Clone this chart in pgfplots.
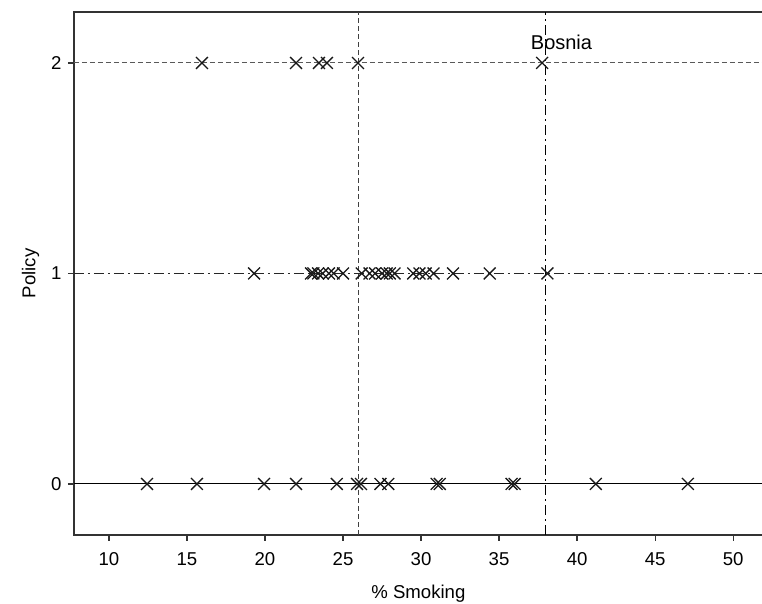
\documentclass[border=0pt]{standalone}
\usepackage{fontspec}
\setmainfont{Liberation Sans}
\usepackage{pgfplots}
\pgfplotsset{compat=1.18}
\usetikzlibrary{calc}

\begin{document}
\fontsize{9.3}{11}\selectfont
\begin{tikzpicture}
\begin{axis}[
  scale only axis,
  width=344.5pt, height=261.5pt,
  xmin=7.76, xmax=51.9,
  ymin=-0.242, ymax=2.242,
  xtick={10,15,...,50},
  ytick={0,1,2},
  tick align=outside,
  major tick length=3pt,
  xtick pos=bottom, ytick pos=left,
  axis line style={line width=0.7pt, black!80},
  tick style={line width=0.6pt, black!80},
  tick label style={font=\fontsize{9.3}{11}\selectfont},
  xticklabel style={text height=7pt, text depth=0pt, yshift=-2pt},
  /pgf/number format/assume math mode=true,
  xlabel={\% Smoking},
  ylabel={Policy},
  label style={font=\fontsize{9.3}{11}\selectfont},
  xlabel style={yshift=-3.5pt},
  ylabel style={yshift=-0.5pt},
  clip=false,
]
% reference lines
\addplot[black, line width=0.5pt, forget plot] coordinates {(7.76,0) (51.9,0)};
\addplot[black!65, line width=0.5pt, dash pattern=on 2.5pt off 1.5pt, forget plot] coordinates {(7.76,2) (51.9,2)};
\addplot[black!85, line width=0.5pt, dash pattern=on 5pt off 2pt on 1pt off 2pt, forget plot] coordinates {(7.76,1) (51.9,1)};
\addplot[black!75, line width=0.5pt, dash pattern=on 2.5pt off 1.5pt, forget plot] coordinates {(26,-0.242) (26,2.242)};
\addplot[black, line width=0.6pt, dash pattern=on 5pt off 2pt on 1pt off 2pt, forget plot] coordinates {(38,-0.242) (38,2.242)};

% policy 0
\addplot[only marks, mark=x, mark size=4.2pt, black!90, mark options={line width=0.65pt}] coordinates {
(12.44,0) (15.64,0) (19.94,0) (21.99,0) (24.6,0) (25.9,0) (26.15,0)
(27.4,0) (27.9,0) (31.0,0) (31.2,0) (35.8,0) (36.0,0) (41.2,0) (47.1,0)
};
% policy 1
\addplot[only marks, mark=x, mark size=4.2pt, black!90, mark options={line width=0.65pt}] coordinates {
(19.3,1) (22.95,1) (23.1,1) (23.4,1) (23.7,1) (24.1,1) (24.4,1) (25.0,1)
(26.2,1) (26.7,1) (27.05,1) (27.5,1) (27.8,1) (28.0,1) (28.3,1)
(29.5,1) (29.9,1) (30.3,1) (30.8,1) (32.05,1) (34.4,1) (38.1,1)
};
% policy 2
\addplot[only marks, mark=x, mark size=4.2pt, black!90, mark options={line width=0.65pt}] coordinates {
(15.96,2) (21.99,2) (23.46,2) (23.97,2) (25.96,2) (37.76,2)
};
\node[anchor=base, inner sep=0pt, font=\fontsize{10}{12}\selectfont] at (axis cs:39.0,2.065) {Bosnia};
\end{axis}
\pgfresetboundingbox
\useasboundingbox ($(current axis.south west)+(-37pt,-34.5pt)$) rectangle ($(current axis.north east)+(-0.4pt,6pt)$);
\end{tikzpicture}
\end{document}
